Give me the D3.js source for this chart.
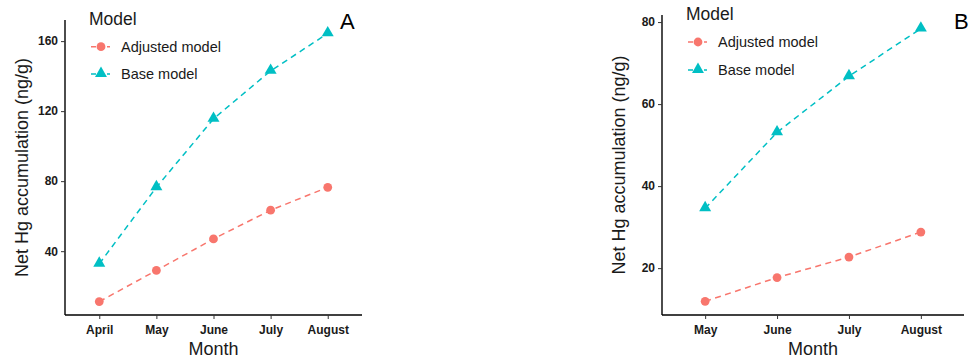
<!DOCTYPE html>
<html>
<head>
<meta charset="utf-8">
<script src="https://cdn.jsdelivr.net/npm/d3@7"></script>
<style>
  html, body { margin: 0; padding: 0; background: #ffffff; }
  svg { display: block; font-family: "Liberation Sans", Arial, sans-serif; }
</style>
</head>
<body>
<svg id="chart" width="971" height="358"></svg>
<script>
// Panel A: April–August
const monthsA = ["April", "May", "June", "July", "August"];
const adjustedA = [11.2, 29.0, 47.0, 63.4, 76.5];
const baseA = [32.8, 76.5, 115.6, 143.0, 164.4];
const ticksA = [40, 80, 120, 160];

// Panel B: May–August
const monthsB = ["May", "June", "July", "August"];
const adjustedB = [11.9, 17.7, 22.7, 28.8];
const baseB = [34.6, 53.1, 66.8, 78.4];
const ticksB = [20, 40, 60, 80];

const seriesNames = ["Adjusted model", "Base model"];
const seriesColors = ["#F8766D", "#00BFC4"];

const svg = d3.select("#chart");
const triangle = d3.symbol().type(d3.symbolTriangle).size(62);

function drawPanel(cfg) {
  const g = svg.append("g");
  const x = d3.scalePoint().domain(cfg.months).range([cfg.left, cfg.right]).padding(0.6);
  const all = cfg.adjusted.concat(cfg.base);
  const lo = d3.min(all), hi = d3.max(all), pad = (hi - lo) * 0.05;
  const y = d3.scaleLinear().domain([lo - pad, hi + pad]).range([cfg.bottom, cfg.top]);

  // axes
  const yAxis = d3.axisLeft(y).tickValues(cfg.ticks).tickSize(4).tickPadding(3);
  const xAxis = d3.axisBottom(x).tickSize(4).tickPadding(6);
  const ya = g.append("g").attr("transform", `translate(${cfg.left},0)`).call(yAxis);
  const xa = g.append("g").attr("transform", `translate(0,${cfg.bottom})`).call(xAxis);
  [ya, xa].forEach(a => {
    a.select(".domain").attr("stroke", "#000").attr("stroke-width", 1.4);
    a.selectAll(".tick line").attr("stroke", "#333").attr("stroke-width", 1);
    a.selectAll(".tick text").attr("fill", "#1a1a1a").attr("font-size", 12)
      .attr("font-weight", "bold").attr("font-family", "Liberation Sans, Arial, sans-serif");
  });
  ya.select(".domain").attr("d", `M0,${cfg.bottom}V${cfg.top}`);
  xa.select(".domain").attr("d", `M${cfg.left},0H${cfg.right}`);

  // titles
  g.append("text").attr("x", (cfg.left + cfg.right) / 2).attr("y", 355)
    .attr("text-anchor", "middle").attr("font-size", 18).attr("fill", "#1a1a1a").text("Month");
  g.append("text")
    .attr("transform", `translate(${cfg.yTitleX},${(cfg.top + cfg.bottom) / 2}) rotate(-90)`)
    .attr("text-anchor", "middle").attr("font-size", 18).attr("fill", "#1a1a1a")
    .text("Net Hg accumulation (ng/g)");

  // series
  const line = d3.line().x((d, i) => x(cfg.months[i])).y(d => y(d));
  [cfg.adjusted, cfg.base].forEach((vals, s) => {
    g.append("path").datum(vals).attr("d", line).attr("fill", "none")
      .attr("stroke", seriesColors[s]).attr("stroke-width", 1.5).attr("stroke-dasharray", "6,4.5");
    const pts = g.selectAll(null).data(vals).enter();
    if (s === 0) {
      pts.append("circle").attr("cx", (d, i) => x(cfg.months[i])).attr("cy", d => y(d))
        .attr("r", 4.4).attr("fill", seriesColors[s]);
    } else {
      pts.append("path").attr("d", triangle)
        .attr("transform", (d, i) => `translate(${x(cfg.months[i])},${y(d) - 0.5})`)
        .attr("fill", seriesColors[s]);
    }
  });

  // legend
  const lg = g.append("g");
  lg.append("text").attr("x", cfg.legX - 2).attr("y", cfg.legTitleY).attr("font-size", 17.5)
    .attr("fill", "#1a1a1a").text("Model");
  seriesNames.forEach((name, s) => {
    const ry = cfg.legRows[s];
    lg.append("line").attr("x1", cfg.legX).attr("x2", cfg.legX + 19).attr("y1", ry).attr("y2", ry)
      .attr("stroke", seriesColors[s]).attr("stroke-width", 1.5).attr("stroke-dasharray", "5,3");
    if (s === 0) {
      lg.append("circle").attr("cx", cfg.legX + 10).attr("cy", ry).attr("r", 4.4).attr("fill", seriesColors[s]);
    } else {
      lg.append("path").attr("d", triangle).attr("transform", `translate(${cfg.legX + 10},${ry - 0.5})`)
        .attr("fill", seriesColors[s]);
    }
    lg.append("text").attr("x", cfg.legX + 30).attr("y", ry + 5).attr("font-size", 14.5)
      .attr("fill", "#1a1a1a").text(name);
  });

  // panel letter
  g.append("text").attr("x", cfg.tagX).attr("y", cfg.tagY).attr("font-size", 22)
    .attr("fill", "#000").text(cfg.tag);
}

drawPanel({
  months: monthsA, adjusted: adjustedA, base: baseA, ticks: ticksA,
  left: 65, right: 362, top: 20, bottom: 315, yTitleX: 28,
  legX: 91, legTitleY: 25, legRows: [46.7, 74], tag: "A", tagX: 340, tagY: 28.5
});
drawPanel({
  months: monthsB, adjusted: adjustedB, base: baseB, ticks: ticksB,
  left: 662, right: 964, top: 15, bottom: 315, yTitleX: 625,
  legX: 688, legTitleY: 20, legRows: [42, 70], tag: "B", tagX: 954, tagY: 29
});
</script>
</body>
</html>
